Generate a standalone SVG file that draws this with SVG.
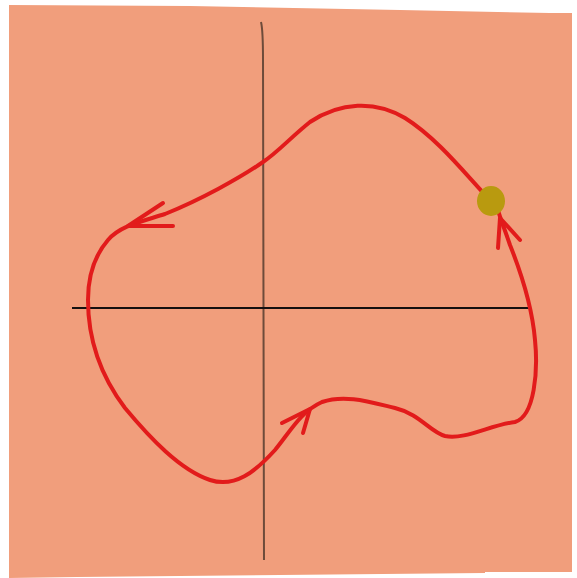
<svg xmlns="http://www.w3.org/2000/svg" width="577" height="578" viewBox="0 0 577 578">
<style>
.curve{fill:none;stroke:#E21B1B;stroke-width:4;stroke-linecap:round;stroke-linejoin:round}
.axis{fill:none;stroke-width:2}
</style>
<rect width="577" height="578" fill="#FFFFFF"/>
<polygon id="paper" points="9,5 190,6 400,10 550,13 572,13 572,572 485,572 485,573 77,577 9,578" fill="#F19E7C"/>
<g id="axes">
<path class="axis" d="M261,22 Q263,30 263,60 L264,560" stroke="#6E4B3A"/>
<path class="axis" d="M72,308 L530,308" stroke="#151010"/>
</g>
<g id="connectors">
<path class="curve" d="M491,201 C470,180 440,140 405,118 C375,100 340,102 310,122 C290,138 278,152 263,162 C240,178 200,200 165,214 C140,222 120,226 108,240 C95,255 88,275 88,300 C88,340 100,375 125,408 C150,438 180,470 210,480 C235,488 255,472 275,450 C290,432 300,412 322,402 C345,394 370,402 395,408 C420,414 430,432 445,436 C465,440 490,425 515,422 C535,416 538,370 535,340 C532,305 520,270 510,245 C505,230 500,218 498,210"/>
<path class="curve" d="M163,203 L128,226 L173,226"/>
<path class="curve" d="M498,248 L500,218 L520,240"/>
<path class="curve" d="M282,423 L310,409 L303,433"/>
</g>
<g id="dot">
<ellipse cx="491" cy="201" rx="14" ry="15" fill="#B99A0F"/>
</g>
</svg>
